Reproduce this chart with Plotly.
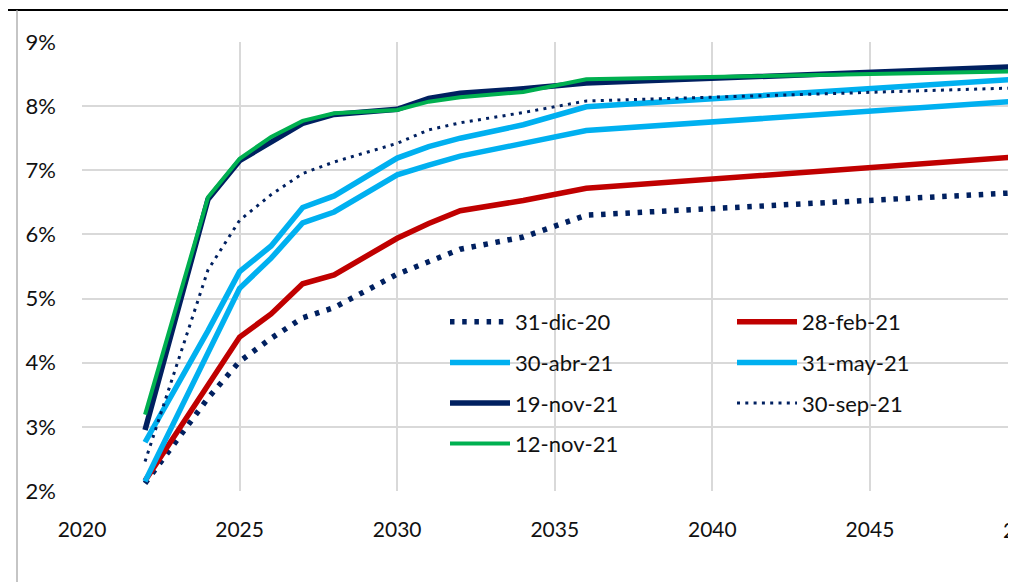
import plotly.graph_objects as go

# ---- data (yields in %) ----
years = [2022, 2024, 2025, 2026, 2027, 2028, 2030, 2031, 2032, 2034, 2036, 2050]

dic20 = [2.12, 3.45, 4.02, 4.38, 4.70, 4.86, 5.38, 5.58, 5.77, 5.96, 6.30, 6.66]
feb21 = [2.16, 3.66, 4.40, 4.76, 5.23, 5.37, 5.94, 6.17, 6.37, 6.53, 6.72, 7.22]
abr21 = [2.15, 4.13, 5.16, 5.63, 6.18, 6.35, 6.93, 7.08, 7.22, 7.42, 7.62, 8.09]
may21 = [2.76, 4.50, 5.42, 5.82, 6.42, 6.60, 7.19, 7.37, 7.50, 7.71, 7.99, 8.43]
nov19 = [2.95, 6.55, 7.15, 7.45, 7.73, 7.87, 7.95, 8.12, 8.20, 8.27, 8.36, 8.62]
sep30 = [2.46, 5.45, 6.22, 6.62, 6.95, 7.13, 7.42, 7.63, 7.74, 7.90, 8.08, 8.29]
nov12 = [3.19, 6.58, 7.18, 7.52, 7.77, 7.89, 7.94, 8.07, 8.14, 8.22, 8.42, 8.545]

names = ["31-dic-20", "28-feb-21", "30-abr-21", "31-may-21", "19-nov-21", "30-sep-21", "12-nov-21"]
values = [dic20, feb21, abr21, may21, nov19, sep30, nov12]

y_ticks = [2, 3, 4, 5, 6, 7, 8, 9]
x_ticks = [2020, 2025, 2030, 2035, 2040, 2045]
x_extra_tick = 2050

# ---- styles ----
NAVY = "#002060"
RED = "#C00000"
LBLUE = "#00B0F0"
GREEN = "#00B050"
styles = [
    dict(color=NAVY, width=5.5, dash="4.5px,7.7px", legend="legend"),
    dict(color=RED, width=5.5, dash="solid", legend="legend2"),
    dict(color=LBLUE, width=5.5, dash="solid", legend="legend"),
    dict(color=LBLUE, width=5.5, dash="solid", legend="legend2"),
    dict(color=NAVY, width=5.5, dash="solid", legend="legend"),
    dict(color=NAVY, width=3, dash="3px,5.3px", legend="legend2"),
    dict(color=GREEN, width=4, dash="solid", legend="legend"),
]

FONT = "Lato, 'Open Sans', sans-serif"
TXT = "#111111"

fig = go.Figure()
for nm, vals, st in zip(names, values, styles):
    fig.add_trace(go.Scatter(
        x=years, y=vals, name=nm, mode="lines",
        line=dict(color=st["color"], width=st["width"], dash=st["dash"]),
        legend=st["legend"], legendgroup=nm,
        hoverinfo="skip",
    ))

# the page body has an 8px margin, so the figure starts at (8, 8) in the window
OFF = 8
W, H = 1000, 574
L, R, T, B = 74, 0, 34, 91
pw = W - L - R
ph = H - T - B
PX_PER_YEAR = pw / 29.38
x0 = 2020
x1 = 2020 + pw / PX_PER_YEAR


def wx(px):  # window pixel x -> paper x
    return (px - OFF - L) / pw


def wy(py):  # window pixel y -> paper y
    return (H - B - (py - OFF)) / ph


legend_common = dict(
    bgcolor="rgba(0,0,0,0)", borderwidth=0,
    font=dict(family=FONT, size=22, color=TXT),
    orientation="v", xanchor="left", yanchor="top",
    tracegroupgap=9, itemwidth=60,
)

fig.update_layout(
    width=W, height=H,
    margin=dict(l=L, r=R, t=T, b=B, pad=0),
    paper_bgcolor="white", plot_bgcolor="white",
    font=dict(family=FONT, size=22, color=TXT),
    showlegend=True,
    legend=dict(x=wx(445), y=wy(301), **legend_common),
    legend2=dict(x=wx(732), y=wy(301), **legend_common),
    xaxis=dict(
        range=[x0, x1], tickvals=x_ticks, ticktext=[str(v) for v in x_ticks],
        showgrid=True, gridcolor="#d9d9d9", gridwidth=1.6,
        zeroline=False, showline=False, ticks="",
        ticklabelstandoff=24,
        tickfont=dict(family=FONT, size=21, color=TXT),
    ),
    yaxis=dict(
        range=[2, 9], tickvals=y_ticks, ticktext=[f"{v}%" for v in y_ticks],
        showgrid=True, gridcolor="#d9d9d9", gridwidth=1.6,
        zeroline=False, showline=False, ticks="",
        ticklabelstandoff=25,
        tickfont=dict(family=FONT, size=22, color=TXT),
    ),
)

# tick label for 2050, just past the visible range (cut by the frame edge as in the source)
fig.add_annotation(
    x=(x_extra_tick - x0) * PX_PER_YEAR / pw, xref="paper", y=0, yref="paper",
    text=str(x_extra_tick), showarrow=False, xanchor="center", yanchor="top", yshift=-24,
    font=dict(family=FONT, size=21, color=TXT),
)

# frame lines of the surrounding box
fig.add_shape(type="line", xref="paper", yref="paper",
              x0=wx(8), x1=wx(1012), y0=wy(10), y1=wy(10),
              line=dict(color="#000000", width=2))
fig.add_shape(type="line", xref="paper", yref="paper",
              x0=wx(17), x1=wx(17), y0=wy(10), y1=wy(600),
              line=dict(color="#a6a6a6", width=1.3))

fig.write_html("out.html")
